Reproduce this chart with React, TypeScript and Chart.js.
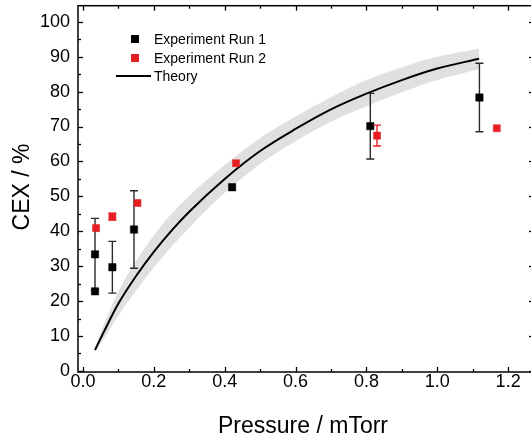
import { useEffect, useRef } from 'react';
import { Chart, registerables } from 'chart.js';

Chart.register(...registerables);

const FONT = '"Liberation Sans", Arial, Helvetica, sans-serif';

// ---- data ----
const run1X = [0.034, 0.034, 0.083, 0.144, 0.421, 0.811, 1.119];
const run1Y = [33.4, 22.8, 29.7, 40.5, 52.6, 70.1, 78.3];
const run1Err = [10.3, 0, 7.4, 11.1, 0, 9.4, 9.8];

const run2X = [0.037, 0.083, 0.154, 0.432, 0.83, 1.168];
const run2Y = [40.9, 44.2, 48.1, 59.5, 67.4, 69.5];
const run2Err = [0, 1.0, 0, 0, 3.0, 0];

const theoryX = [0.034, 0.06, 0.1, 0.15, 0.2, 0.25, 0.3, 0.4, 0.5, 0.6, 0.7, 0.8, 0.9, 1.0, 1.118];
const theoryY = [6.0, 11.4, 19.3, 27.2, 34.1, 40.2, 45.6, 55.0, 63.0, 69.3, 74.9, 79.4, 83.3, 86.6, 89.4];
const bandUpper = [6.6, 13.5, 22.8, 31.5, 38.8, 45.0, 50.2, 59.0, 66.7, 72.9, 78.4, 83.3, 87.0, 90.0, 92.3];
const bandLower = [5.4, 9.4, 15.9, 23.0, 29.6, 35.6, 41.0, 51.0, 59.3, 65.8, 71.4, 75.8, 79.8, 83.3, 86.4];

const xTicks = [0, 0.2, 0.4, 0.6, 0.8, 1.0, 1.2];
const xMinorTicks = [0.1, 0.3, 0.5, 0.7, 0.9, 1.1];
const yTicks = [0, 10, 20, 30, 40, 50, 60, 70, 80, 90, 100];
const yMinorTicks = [5, 15, 25, 35, 45, 55, 65, 75, 85, 95];

const xTitle = 'Pressure / mTorr';
const yTitle = 'CEX / %';
const labels = ['Experiment Run 1', 'Experiment Run 2', 'Theory'];

const RED = 'rgb(230,30,36)';
const BLACK = '#000000';

const toPts = (xs: number[], ys: number[]) => xs.map((x, i) => ({ x, y: ys[i] }));

const errorBars = {
  id: 'errorBars',
  beforeDatasetDraw(chart: any, args: any) {
    const ds: any = chart.data.datasets[args.index];
    if (!ds.errors) return;
    const { ctx, scales } = chart;
    const xs = scales.x, ys = scales.y;
    ctx.save();
    ctx.strokeStyle = ds.errColor;
    ctx.lineWidth = 1.4;
    ds.data.forEach((p: any, i: number) => {
      const e = ds.errors[i];
      if (!e) return;
      const px = xs.getPixelForValue(p.x);
      const top = ys.getPixelForValue(p.y + e);
      const bot = ys.getPixelForValue(p.y - e);
      ctx.beginPath();
      ctx.moveTo(px, top); ctx.lineTo(px, bot);
      ctx.moveTo(px - 4, top); ctx.lineTo(px + 4, top);
      ctx.moveTo(px - 4, bot); ctx.lineTo(px + 4, bot);
      ctx.stroke();
    });
    ctx.restore();
  },
};

const frame = {
  id: 'frame',
  afterDraw(chart: any) {
    const { ctx, chartArea: a, scales } = chart;
    const xs = scales.x, ys = scales.y;
    ctx.save();
    ctx.strokeStyle = '#000';
    ctx.lineWidth = 1.5;
    ctx.strokeRect(a.left, a.top, a.right - a.left, a.bottom - a.top);
    ctx.lineWidth = 1.3;
    const seg = (x1: number, y1: number, x2: number, y2: number) => {
      ctx.beginPath(); ctx.moveTo(x1, y1); ctx.lineTo(x2, y2); ctx.stroke();
    };
    const xt = (vals: number[], len: number) => vals.forEach((v) => {
      const p = Math.round(xs.getPixelForValue(v)) + 0.5;
      seg(p, a.bottom, p, a.bottom - len);
      seg(p, a.top, p, a.top + len);
    });
    const yt = (vals: number[], len: number) => vals.forEach((v) => {
      const p = Math.round(ys.getPixelForValue(v)) + 0.5;
      seg(a.left, p, a.left + len, p);
      seg(a.right, p, a.right - len, p);
    });
    xt(xTicks, 5); xt(xMinorTicks, 3);
    yt(yTicks, 5); yt(yMinorTicks, 3);

    // axis titles
    ctx.fillStyle = '#000';
    ctx.font = `23px ${FONT}`;
    ctx.textAlign = 'center';
    ctx.textBaseline = 'middle';
    ctx.fillText(xTitle, 303, 427);
    ctx.translate(23, 187);
    ctx.rotate(-Math.PI / 2);
    ctx.fillText(yTitle, 0, 0);
    ctx.restore();

    // legend
    ctx.save();
    ctx.font = `14px ${FONT}`;
    ctx.textAlign = 'left';
    ctx.textBaseline = 'middle';
    ctx.fillStyle = BLACK;
    ctx.fillRect(131, 35, 8, 8);
    ctx.fillText(labels[0], 154, 40);
    ctx.fillStyle = RED;
    ctx.fillRect(131, 54, 8, 8);
    ctx.fillStyle = BLACK;
    ctx.fillText(labels[1], 154, 59);
    ctx.strokeStyle = BLACK;
    ctx.lineWidth = 2;
    ctx.beginPath(); ctx.moveTo(116, 76); ctx.lineTo(151, 76); ctx.stroke();
    ctx.fillText(labels[2], 154, 77);
    ctx.restore();
  },
};

const zeroPad = (s: any) => {
  s.paddingTop = 0; s.paddingBottom = 0; s.paddingLeft = 0; s.paddingRight = 0;
};

export default function App() {
  const ref = useRef<HTMLCanvasElement | null>(null);
  useEffect(() => {
    document.body.style.margin = '0';
    const canvas = ref.current!;
    const chart = new Chart(canvas, {
      type: 'scatter',
      data: {
        datasets: [
          {
            label: labels[1],
            data: toPts(run2X, run2Y),
            errors: run2Err,
            errColor: RED,
            backgroundColor: RED,
            borderColor: RED,
            pointStyle: 'rect',
            pointRadius: 5,
            borderWidth: 0.5,
            showLine: false,
          } as any,
          {
            label: labels[0],
            data: toPts(run1X, run1Y),
            errors: run1Err,
            errColor: '#2a2a2a',
            backgroundColor: BLACK,
            borderColor: BLACK,
            pointStyle: 'rect',
            pointRadius: 5.2,
            borderWidth: 0.5,
            showLine: false,
          } as any,
          {
            label: labels[2],
            data: toPts(theoryX, theoryY),
            showLine: true,
            borderColor: BLACK,
            borderWidth: 2,
            pointRadius: 0,
            cubicInterpolationMode: 'monotone',
            fill: false,
          },
          {
            label: 'upper',
            data: toPts(theoryX, bandUpper),
            showLine: true,
            borderWidth: 0,
            borderColor: 'rgba(0,0,0,0)',
            backgroundColor: 'rgb(224,224,224)',
            pointRadius: 0,
            cubicInterpolationMode: 'monotone',
            fill: '+1',
          },
          {
            label: 'lower',
            data: toPts(theoryX, bandLower),
            showLine: true,
            borderWidth: 0,
            borderColor: 'rgba(0,0,0,0)',
            pointRadius: 0,
            cubicInterpolationMode: 'monotone',
            fill: false,
          },
        ],
      },
      options: {
        animation: false,
        responsive: false,
        events: [],
        layout: { padding: { top: 3, right: 26, left: 0, bottom: 0 } },
        plugins: { legend: { display: false }, tooltip: { enabled: false } },
        scales: {
          x: {
            type: 'linear',
            min: -0.014,
            max: 1.273,
            grid: { display: false, drawTicks: false },
            border: { display: false },
            afterBuildTicks: (s: any) => { s.ticks = xTicks.map((v) => ({ value: v })); },
            afterFit: (s: any) => { s.height = 66; zeroPad(s); },
            ticks: {
              color: '#000',
              font: { family: FONT, size: 18 },
              padding: -1,
              maxRotation: 0,
              autoSkip: false,
              callback: (v: any) => Number(v).toFixed(1),
            },
          },
          y: {
            type: 'linear',
            min: -0.3,
            max: 104.6,
            grid: { display: false, drawTicks: false },
            border: { display: false },
            afterBuildTicks: (s: any) => { s.ticks = yTicks.map((v) => ({ value: v })); },
            afterFit: (s: any) => { s.width = 78; zeroPad(s); },
            ticks: {
              color: '#000',
              font: { family: FONT, size: 18 },
              padding: 8,
              autoSkip: false,
              callback: (v: any) => String(v),
            },
          },
        },
      },
      plugins: [errorBars, frame],
    });
    return () => chart.destroy();
  }, []);
  return (
    <div style={{ width: 531, height: 438, overflow: 'hidden', position: 'relative' }}>
      <canvas ref={ref} width={560} height={438} style={{ display: 'block', width: 560, height: 438 }} />
    </div>
  );
}
